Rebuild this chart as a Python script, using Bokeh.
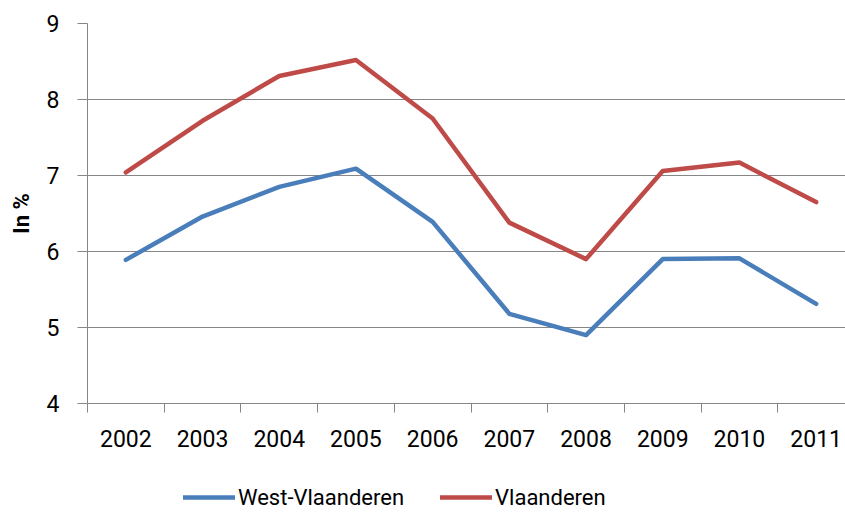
from bokeh.plotting import figure
from bokeh.models import FixedTicker, Range1d, Legend, LegendItem
from bokeh.layouts import column
from bokeh.embed import file_html
from bokeh.resources import INLINE

years = [2002, 2003, 2004, 2005, 2006, 2007, 2008, 2009, 2010, 2011]
west_vlaanderen = [5.89, 6.46, 6.85, 7.09, 6.39, 5.18, 4.90, 5.90, 5.91, 5.31]
vlaanderen = [7.04, 7.72, 8.31, 8.52, 7.75, 6.38, 5.90, 7.06, 7.17, 6.65]
series_names = ["West-Vlaanderen", "Vlaanderen"]
y_ticks = [4, 5, 6, 7, 8, 9]

BLUE = "#4a7ebb"
RED = "#be4b48"
GRID = "#868686"
FONT = "Roboto"

p = figure(width=845, height=473, output_backend="svg", toolbar_location=None,
           x_range=Range1d(years[0] - 0.5, years[0] - 0.5 + 758 / 76.7),
           y_range=Range1d(4, 9), min_border_top=23, min_border_right=0,
           min_border_left=87, min_border_bottom=70)
p.outline_line_color = None
p.background_fill_color = "white"
p.border_fill_color = "white"

p.line(years, west_vlaanderen, line_color=BLUE, line_width=4.5,
       line_join="round", line_cap="round")
p.line(years, vlaanderen, line_color=RED, line_width=4.5,
       line_join="round", line_cap="round")

# x axis
xa = p.xaxis[0]
xa.ticker = FixedTicker(ticks=years, minor_ticks=[y - 0.5 for y in years] + [years[-1] + 0.5])
xa.major_tick_out = 0
xa.major_tick_in = 0
xa.minor_tick_out = 9
xa.minor_tick_in = 0
xa.minor_tick_line_color = GRID
xa.axis_line_color = GRID
xa.major_label_text_font = FONT
xa.major_label_text_font_size = "23px"
xa.major_label_text_color = "#000000"
xa.major_label_standoff = 17

# y axis
ya = p.yaxis[0]
ya.ticker = FixedTicker(ticks=y_ticks, minor_ticks=[])
ya.major_tick_out = 10
ya.major_tick_in = 0
ya.major_tick_line_color = GRID
ya.axis_line_color = GRID
ya.major_label_text_font = FONT
ya.major_label_text_font_size = "23px"
ya.major_label_text_color = "#000000"
ya.major_label_standoff = 18
ya.axis_label = "In %"
ya.axis_label_text_font = FONT
ya.axis_label_text_font_style = "bold"
ya.axis_label_text_font_size = "22px"
ya.axis_label_text_color = "#000000"
ya.axis_label_standoff = 10

p.xgrid.grid_line_color = None
p.ygrid.grid_line_color = GRID
p.ygrid.grid_line_width = 1.2

# legend strip below the chart (its series lie outside its own visible range)
lg = figure(width=845, height=39, output_backend="svg", toolbar_location=None,
            x_range=Range1d(0, 1), y_range=Range1d(0, 1),
            x_axis_type=None, y_axis_type=None,
            min_border_top=0, min_border_right=0, min_border_left=0, min_border_bottom=0)
lg.outline_line_color = None
lg.xgrid.grid_line_color = None
lg.ygrid.grid_line_color = None
lw = lg.line(years, west_vlaanderen, line_color=BLUE, line_width=4.5, line_cap="round")
lv = lg.line(years, vlaanderen, line_color=RED, line_width=4.5, line_cap="round")

legend = Legend(items=[LegendItem(label=series_names[0], renderers=[lw]),
                       LegendItem(label=series_names[1], renderers=[lv])],
                orientation="horizontal", location=(96, 2),
                glyph_width=52, glyph_height=26, label_standoff=3, spacing=36,
                label_text_font=FONT, label_text_font_size="22px",
                label_text_color="#000000",
                border_line_color=None, background_fill_alpha=0,
                padding=0, margin=0)
lg.add_layout(legend, "center")

layout = column(p, lg, spacing=0)
open("out.html", "w").write(file_html(layout, INLINE))
